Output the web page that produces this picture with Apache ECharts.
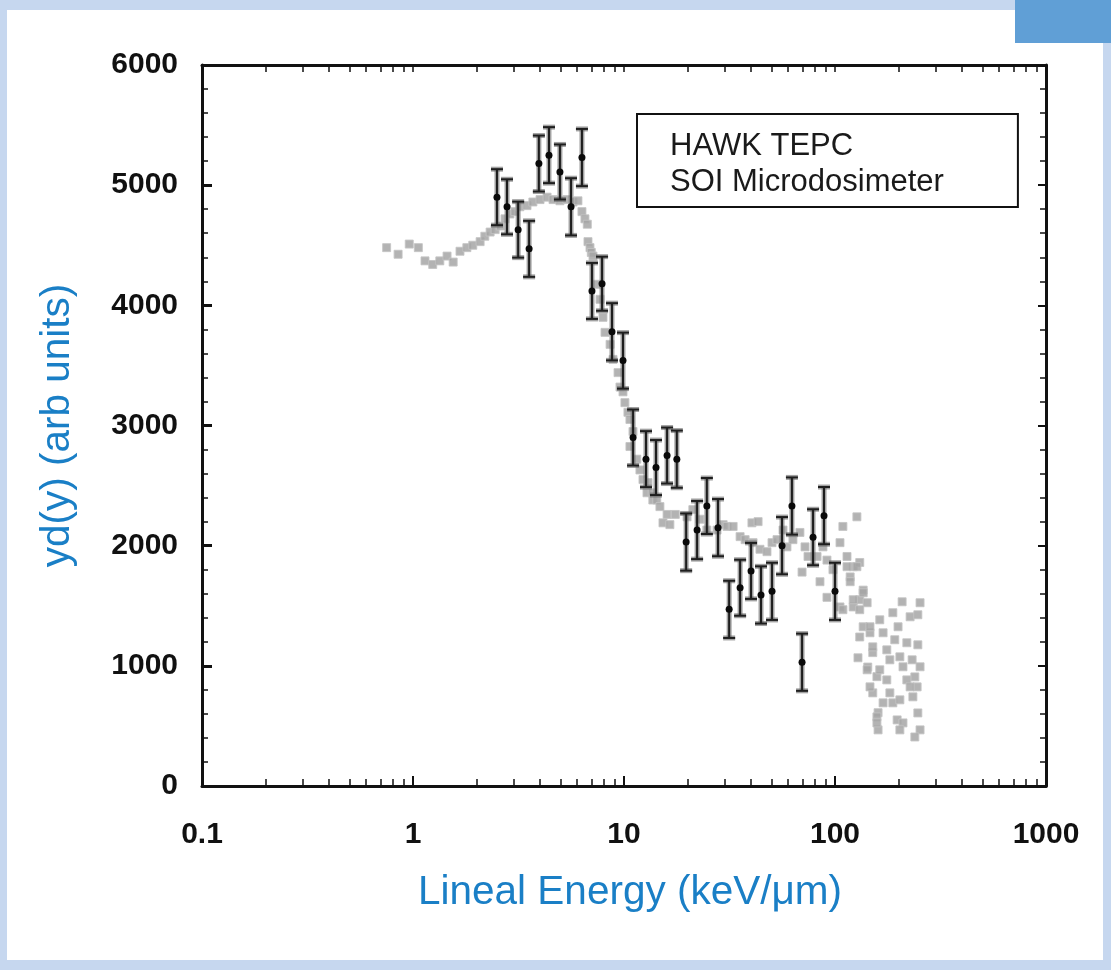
<!DOCTYPE html>
<html>
<head>
<meta charset="utf-8">
<script src="https://cdn.jsdelivr.net/npm/echarts@6/dist/echarts.min.js"></script>
<style>
  html, body { margin: 0; padding: 0; width: 1111px; height: 970px; overflow: hidden; background: #c6d7ef; }
  #inner { position: absolute; left: 7px; top: 10px; width: 1096px; height: 950px; background: #ffffff; }
  #blue { position: absolute; left: 1015px; top: 0; width: 96px; height: 43px; background: #609fd6; }
  #chart { position: absolute; left: 0; top: 0; width: 1111px; height: 970px; }
</style>
</head>
<body>
<div id="inner"></div>
<div id="blue"></div>
<div id="chart"></div>
<script>
// ---- Data ----
const seriesNames = ['HAWK TEPC', 'SOI Microdosimeter'];
const xTickLabels = ['0.1', '1', '10', '100', '1000'];
const yTickLabels = ['0', '1000', '2000', '3000', '4000', '5000', '6000'];

// HAWK TEPC (grey squares)
const tepcX = [0.75, 0.85, 0.96, 1.06, 1.14, 1.24, 1.34, 1.45, 1.55, 1.67, 1.80, 1.92, 2.08, 2.19, 2.32, 2.45, 2.59, 2.73, 2.88, 3.04,
  3.21, 3.47, 3.70, 4.00, 4.32, 4.61, 4.97, 5.37, 5.73, 6.05, 6.32, 6.53, 6.70, 6.75, 6.90, 7.00, 7.13, 7.45, 7.70, 7.95,
  8.13, 8.59, 8.87, 9.37, 9.57, 9.89, 10.1, 10.44, 10.67, 10.67, 11.03, 11.5, 11.9, 12.3, 12.85, 13.0, 13.6, 13.7, 14.3, 14.8,
  15.3, 16.0, 16.5, 17.5, 19.9, 21.2, 22.9, 24.7, 27.6, 29.5, 30.8, 32.9, 35.5, 37.5, 40.4, 43.2, 40.9, 44.1, 47.6, 50.3,
  53.1, 56.7, 59.2, 63.2, 68.2, 72.1, 69.8, 74.5, 82.2, 87.7, 91.6, 84.9, 91.6, 97.8, 105.6, 109, 114, 118, 122, 127,
  131, 136, 105.6, 122, 131, 142, 136, 146.5, 131, 151, 143, 158, 151, 160,
  114, 127, 118, 109, 122, 136, 131, 146.5, 151, 128.5, 142, 146.5, 158, 160, 163, 169, 176, 182, 188, 192,
  208, 199, 203, 210, 219, 227, 232, 239, 247, 253, 247, 253, 245, 234, 188, 176, 163, 182, 203, 197,
  210, 203, 247, 253, 239, 158, 169, 219, 227];
const tepcY = [4480, 4425, 4510, 4480, 4370, 4340, 4370, 4410, 4360, 4450, 4480, 4500, 4530, 4575, 4610, 4630, 4660, 4720, 4760, 4780,
  4820, 4830, 4860, 4880, 4900, 4880, 4870, 4880, 4860, 4870, 4780, 4720, 4675, 4530, 4480, 4440, 4410, 4175, 4050, 3900,
  3775, 3675, 3550, 3440, 3320, 3280, 3190, 3110, 3050, 2825, 2950, 2720, 2630, 2550, 2440, 2525, 2440, 2380, 2380, 2325,
  2190, 2260, 2175, 2260, 2240, 2300, 2220, 2130, 2130, 2175, 2160, 2160, 2075, 2050, 2190, 2200, 2025, 1970, 1950, 2025,
  2050, 2130, 1990, 2050, 2110, 1990, 1780, 1910, 1910, 1990, 1880, 1700, 1570, 1800, 2025, 2160, 1910, 1740, 1825, 2240,
  1860, 1630, 1490, 1490, 1550, 1525, 1325, 1275, 1240, 1110, 990, 910, 775, 610,
  1825, 1825, 1700, 1467, 1550, 1608, 1467, 1325, 1158, 1067, 967, 825, 575, 467, 1383, 1275, 1133, 1050, 1442, 1217,
  1533, 1325, 1075, 992, 1192, 1408, 1050, 908, 1175, 1525, 1425, 992, 825, 742, 692, 883, 967, 775, 717, 550,
  525, 467, 608, 467, 408, 525, 692, 883, 825];

// SOI Microdosimeter (black points with error bars)
const soiX = [2.50, 2.79, 3.15, 3.55, 3.95, 4.41, 4.97, 5.61, 6.32, 7.05, 7.87, 8.77, 9.89, 11.04, 12.71, 14.18, 16.0, 17.8,
  19.7, 22.2, 24.7, 27.9, 31.5, 35.5, 40.0, 44.6, 50.3, 56.1, 62.5, 69.8, 78.7, 88.7, 100];
const soiY = [4900, 4820, 4630, 4470, 5180, 5250, 5110, 4820, 5230, 4120, 4180, 3780, 3540, 2900, 2720, 2650, 2750, 2720,
  2030, 2130, 2330, 2150, 1470, 1650, 1790, 1590, 1620, 2000, 2330, 1030, 2070, 2250, 1620];
const soiErr = [233, 229, 233, 233, 233, 233, 229, 238, 238, 233, 225, 238, 233, 233, 233, 229, 233, 238,
  238, 242, 233, 238, 238, 233, 233, 238, 238, 238, 238, 238, 233, 238, 238];

// minor log ticks positions (2..9 per decade)
const minorLogTicks = [];
[0.1, 1, 10, 100].forEach(d => { for (let k = 2; k <= 9; k++) minorLogTicks.push(+(d * k).toPrecision(3)); });
const majorLogTicks = xTickLabels.map(Number);

// ---- Chart ----
const chart = echarts.init(document.getElementById('chart'), null, { renderer: 'canvas' });
const FONT = "'Liberation Sans', Arial, Helvetica, sans-serif";
const AXC = '#111111';
const NAMEC = '#1a7fc6';

const tepcData = tepcX.map((x, i) => [x, tepcY[i]]);
const soiData = soiX.map((x, i) => [x, soiY[i], soiErr[i]]);

const option = {
  backgroundColor: 'transparent',
  animation: false,
  grid: { left: 202, right: 65, top: 65, bottom: 184, containLabel: false },
  legend: {
    data: seriesNames,
    orient: 'vertical',
    left: 637, top: 114,
    icon: 'none',
    itemWidth: 1, itemHeight: 1, itemGap: 2,
    padding: [15, 74, 8, 27],
    borderColor: '#111', borderWidth: 2,
    backgroundColor: '#fff',
    selectedMode: false,
    textStyle: { fontFamily: FONT, fontSize: 31, color: '#1a1a1a', lineHeight: 34 }
  },
  xAxis: [
    {
      type: 'log', logBase: 10, min: 0.1, max: 1000,
      name: 'Lineal Energy (keV/\u03bcm)', nameLocation: 'middle', nameGap: 86,
      nameTextStyle: { fontFamily: FONT, fontSize: 40.5, color: NAMEC, padding: [0, 0, 0, 12] },
      axisLine: { show: true, onZero: false, lineStyle: { color: AXC, width: 3 } },
      axisTick: { show: true, inside: true, length: 10, lineStyle: { color: AXC, width: 2 } },
      axisLabel: { show: true, margin: 34, fontFamily: FONT, fontSize: 30, fontWeight: 'bold', color: AXC,
        formatter: v => { const s = xTickLabels.find(t => Math.abs(Number(t) - v) / v < 1e-6); return s || ''; } },
      splitLine: { show: false }, minorTick: { show: false }
    },
    {
      type: 'log', logBase: 10, min: 0.1, max: 1000, position: 'bottom',
      axisLine: { show: false },
      axisTick: { show: true, inside: true, length: 7, customValues: minorLogTicks, lineStyle: { color: AXC, width: 1.5 } },
      axisLabel: { show: false }, splitLine: { show: false }
    },
    {
      type: 'log', logBase: 10, min: 0.1, max: 1000, position: 'top',
      axisLine: { show: true, onZero: false, lineStyle: { color: AXC, width: 3 } },
      axisTick: { show: true, inside: true, length: 7, customValues: minorLogTicks.concat(majorLogTicks), lineStyle: { color: AXC, width: 1.5 } },
      axisLabel: { show: false }, splitLine: { show: false }
    }
  ],
  yAxis: [
    {
      type: 'value', min: 0, max: 6000, interval: 1000,
      name: 'yd(y) (arb units)', nameLocation: 'middle', nameGap: 124, nameRotate: 90,
      nameTextStyle: { fontFamily: FONT, fontSize: 40.5, color: NAMEC },
      axisLine: { show: true, onZero: false, lineStyle: { color: AXC, width: 3 } },
      axisTick: { show: true, inside: true, length: 10, lineStyle: { color: AXC, width: 3 } },
      minorTick: { show: true, splitNumber: 5, length: 6, lineStyle: { color: AXC, width: 1.5 } },
      axisLabel: { show: true, margin: 24, fontFamily: FONT, fontSize: 30, fontWeight: 'bold', color: AXC,
        formatter: v => yTickLabels[Math.round(v / 1000)] },
      splitLine: { show: false }, minorSplitLine: { show: false }
    },
    {
      type: 'value', min: 0, max: 6000, interval: 1000, position: 'right',
      axisLine: { show: true, onZero: false, lineStyle: { color: AXC, width: 3 } },
      axisTick: { show: true, inside: true, length: 8, lineStyle: { color: AXC, width: 2 } },
      minorTick: { show: true, splitNumber: 5, length: 6, lineStyle: { color: AXC, width: 1.5 } },
      axisLabel: { show: false }, splitLine: { show: false }
    }
  ],
  series: [
    {
      name: seriesNames[0], type: 'scatter', xAxisIndex: 0, yAxisIndex: 0,
      data: tepcData, symbol: 'rect', symbolSize: 8,
      itemStyle: { color: '#a6a6a6', opacity: 0.85, borderColor: '#c4c4c4', borderWidth: 1 },
      z: 2
    },
    {
      name: seriesNames[1], type: 'custom', xAxisIndex: 0, yAxisIndex: 0,
      data: soiData, encode: { x: 0, y: 1 },
      renderItem: function (params, api) {
        const x = api.value(0), y = api.value(1), e = api.value(2);
        const top = api.coord([x, y + e]);
        const bot = api.coord([x, y - e]);
        const c = api.coord([x, y]);
        const w = 6;
        const halo = { stroke: 'rgba(100,100,100,0.6)', lineWidth: 5 };
        const core = { stroke: '#1e1e1e', lineWidth: 2 };
        const lines = (st) => [
          { type: 'line', shape: { x1: top[0], y1: top[1], x2: bot[0], y2: bot[1] }, style: st },
          { type: 'line', shape: { x1: top[0] - w, y1: top[1], x2: top[0] + w, y2: top[1] }, style: st },
          { type: 'line', shape: { x1: bot[0] - w, y1: bot[1], x2: bot[0] + w, y2: bot[1] }, style: st }
        ];
        return {
          type: 'group',
          children: lines(halo).concat(lines(core)).concat([
            { type: 'circle', shape: { cx: c[0], cy: c[1], r: 3.5 }, style: { fill: '#0a0a0a' } }
          ])
        };
      },
      z: 3
    }
  ]
};
chart.setOption(option);
</script>
</body>
</html>
